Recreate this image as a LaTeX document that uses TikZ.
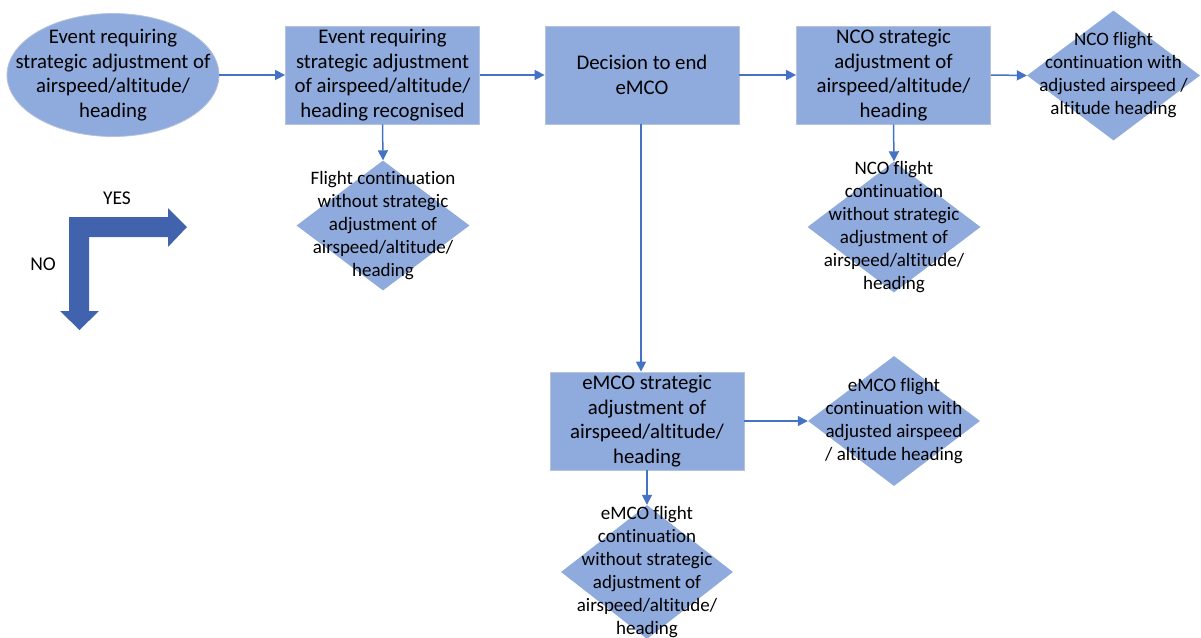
\documentclass[tikz,border=0pt]{standalone}
\usepackage{fontspec}
\setmainfont{Carlito}[Ligatures=NoCommon]
\usetikzlibrary{shapes.geometric,arrows.meta}
\definecolor{fillblue}{HTML}{8FAADC}
\definecolor{edgeblue}{HTML}{B4C2DC}
\definecolor{linkblue}{HTML}{4472C4}
\definecolor{bigblue}{HTML}{4163AE}
\tikzset{
  procbox/.style={rectangle, fill=fillblue, draw=edgeblue, line width=0.8pt,
    minimum width=194pt, minimum height=98pt, inner sep=0pt},
  startoval/.style={ellipse, fill=fillblue, draw=edgeblue, line width=0.8pt,
    minimum width=212pt, minimum height=123pt, inner sep=0pt},
  decision/.style={diamond, fill=fillblue, draw=none,
    minimum width=173pt, minimum height=130pt, inner sep=0pt},
  boxtext/.style={align=center, font=\fontsize{20.8}{24.6}\selectfont, inner sep=0pt},
  dtext/.style={align=center, font=\fontsize{19}{23}\selectfont, inner sep=0pt},
  link/.style={draw=linkblue, line width=1.5pt, -{Triangle[length=10pt,width=10pt]}},
  bigarrow/.style={fill=bigblue, draw=none},
  keylabel/.style={font=\fontsize{19.5}{22}\selectfont, inner sep=0pt}
}
\begin{document}
\begin{tikzpicture}[x=1pt,y=-1pt]
\useasboundingbox (0,0) rectangle (1201,637);

% top row
\node[startoval] (e1) at (113,75) {};
\node[boxtext] at (e1) {Event requiring\\strategic adjustment of\\airspeed/altitude/\\heading};
\node[procbox] (b2) at (382.5,75) {};
\node[boxtext] at (b2) {Event requiring\\strategic adjustment\\of airspeed/altitude/\\heading recognised};
\node[procbox] (b3) at (642,75) {};
\node[boxtext] at (b3) {Decision to end\\eMCO\hspace{3.2em}};
\node[procbox] (b4) at (893.5,75) {};
\node[boxtext] at (b4) {NCO strategic\\adjustment of\\airspeed/altitude/\\heading};
\node[decision] (d4) at (1113.5,75.5) {};
\node[dtext] at (d4) {NCO flight\\continuation with\\adjusted airspeed /\\altitude heading};

% second row
\node[decision] (d2) at (383,225.5) {};
\node[dtext] at (d2) {Flight continuation\\without strategic\\adjustment of\\airspeed/altitude/\\heading};
\node[decision, minimum height=131pt] (d5) at (894,227) {};
\node[dtext] at (d5) {NCO flight\\continuation\\without strategic\\adjustment of\\airspeed/altitude/\\heading};

% lower branch
\node[procbox] (b5) at (647,421) {};
\node[boxtext] at (b5) {eMCO strategic\\adjustment of\\airspeed/altitude/\\heading};
\node[decision, minimum width=172pt] (d6) at (894,421) {};
\node[dtext] at (d6) {eMCO flight\\continuation with\\adjusted airspeed\\/ altitude heading};
\node[decision, minimum width=172pt, minimum height=134pt] (d7) at (647,572) {};
\node[dtext] at (d7) {eMCO flight\\continuation\\without strategic\\adjustment of\\airspeed/altitude/\\heading};

% connectors
\draw[link] (e1.east) -- (b2.west);
\draw[link] (b2.east) -- (b3.west);
\draw[link] (b3.east) -- (b4.west);
\draw[link] (b4.east) -- (d4.west);
\draw[link] (b2.south) -- (d2.north);
\draw[link] (b4.south) -- (d5.north);
\draw[link] ([xshift=-1pt]b3.south) -- ([xshift=-1pt]b3.south |- b5.north);
\draw[link] (b5.east) -- (d6.west);
\draw[link] (b5.south) -- (d7.north);

% YES / NO key
\fill[bigarrow] (69,217) -- (168,217) -- (168,208) -- (187,227) -- (168,247)
  -- (168,237) -- (69,237) -- cycle;
\fill[bigarrow] (69,237) -- (89,237) -- (89,311) -- (99,311) -- (79.5,330)
  -- (60,311) -- (69,311) -- cycle;
\node[keylabel] (yes) at (117,198) {YES};
\node[keylabel] (no) at (43,264) {NO};
\end{tikzpicture}
\end{document}
